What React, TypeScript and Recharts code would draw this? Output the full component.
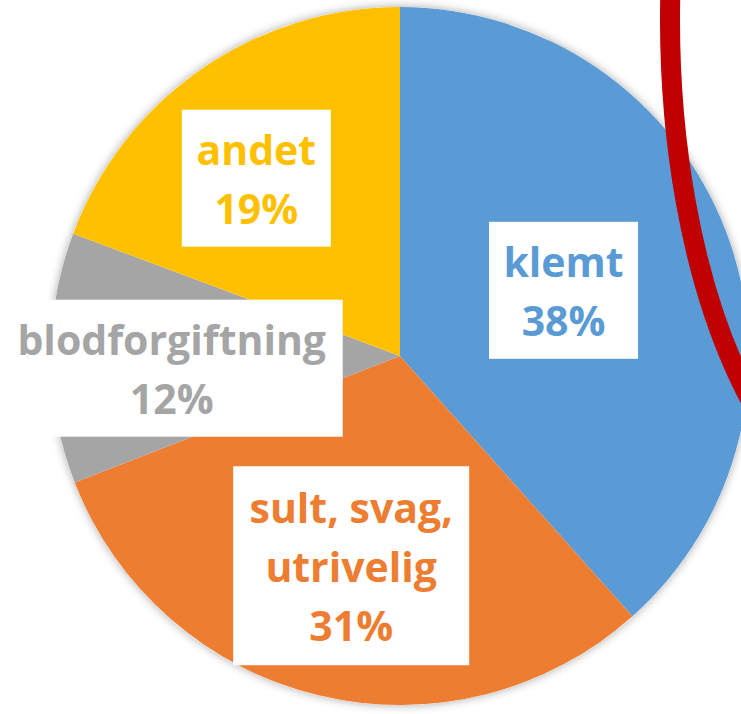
import React from "react";
import { PieChart, Pie, Cell } from "recharts";

const causes = ["klemt", "sult, svag,\nutrivelig", "blodforgiftning", "andet"];
const shares = [38.4, 30.7, 11.6, 19.3];
const percentLabels = ["38%", "31%", "12%", "19%"];
const colors = ["#5B9BD5", "#ED7D31", "#A5A5A5", "#FFC000"];

// label box layout, one entry per slice
const boxWidth = [149, 236, 342, 149];
const labelRadius = [0.505, 0.617, 0.655, 0.655];
const labelTurn = [1, 0.4, 2.7, 4.2];

const data = causes.map((name, i) => ({ name, value: shares[i] }));

const RADIAN = Math.PI / 180;

const renderLabel = (props) => {
  const { cx, cy, midAngle, outerRadius, index } = props;
  const a = (midAngle + labelTurn[index]) * RADIAN;
  const r = outerRadius * labelRadius[index];
  const x = cx + r * Math.cos(a);
  const y = cy - r * Math.sin(a);
  const lines = [...causes[index].split("\n"), percentLabels[index]];
  const w = boxWidth[index];
  const h = lines.length * 62 + 13;
  const lh = 59;

  return (
    <g key={`lbl-${index}`}>
      <rect x={x - w / 2} y={y - h / 2} width={w} height={h} fill="#fff" />
      {lines.map((t, k) => (
        <text
          key={k}
          x={x}
          y={y + (k - (lines.length - 1) / 2) * lh}
          fill={colors[index]}
          fontSize={41}
          fontWeight={700}
          fontFamily="'Open Sans', sans-serif"
          textAnchor="middle"
          dominantBaseline="central"
        >
          {t}
        </text>
      ))}
    </g>
  );
};

export default function App() {
  return (
    <div style={{ position: "relative", width: 741, height: 714, overflow: "hidden" }}>
      <style>{"body{margin:0}"}</style>
      <svg width={0} height={0} style={{ position: "absolute" }}>
        <defs>
          <filter id="pieShadow" x="-10%" y="-10%" width="120%" height="120%">
            <feDropShadow dx={0} dy={0} stdDeviation={5} floodColor="#000" floodOpacity={0.35} />
          </filter>
        </defs>
      </svg>
      <PieChart width={741} height={714} margin={{ top: 0, right: 0, bottom: 0, left: 0 }}>
        <Pie
          data={[{ name: "bg", value: 1 }]}
          dataKey="value"
          cx={400}
          cy={356}
          outerRadius={349}
          stroke="none"
          isAnimationActive={false}
        >
          <Cell fill="#fff" filter="url(#pieShadow)" />
        </Pie>
        <Pie
          data={data}
          dataKey="value"
          nameKey="name"
          cx={400}
          cy={356}
          outerRadius={349}
          startAngle={90}
          endAngle={-270}
          stroke="none"
          labelLine={false}
          label={renderLabel}
          isAnimationActive={false}
        >
          {data.map((d, i) => (
            <Cell key={d.name} fill={colors[i]} />
          ))}
        </Pie>
      </PieChart>
      <svg
        width={741}
        height={714}
        style={{ position: "absolute", left: 0, top: 0, pointerEvents: "none" }}
      >
        <ellipse cx={900} cy={20} rx={230} ry={500} fill="none" stroke="#C00000" strokeWidth={20} />
      </svg>
    </div>
  );
}
